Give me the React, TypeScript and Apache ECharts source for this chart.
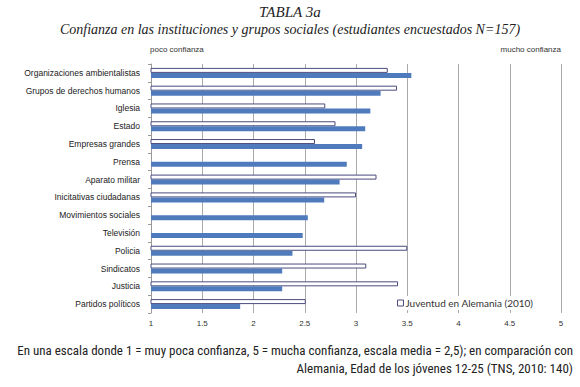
import React, { useEffect, useRef } from "react";
import * as echarts from "echarts";

const categories = [
  "Organizaciones ambientalistas",
  "Grupos de derechos humanos",
  "Iglesia",
  "Estado",
  "Empresas grandes",
  "Prensa",
  "Aparato militar",
  "Inicitativas ciudadanas",
  "Movimientos sociales",
  "Televisión",
  "Policia",
  "Sindicatos",
  "Justicia",
  "Partidos políticos",
];

const studentValues = [3.54, 3.24, 3.14, 3.09, 3.06, 2.91, 2.84, 2.69, 2.53, 2.48, 2.38, 2.28, 2.28, 1.87];
const germanyValues: (number | null)[] = [3.31, 3.4, 2.7, 2.8, 2.6, null, 3.2, 3.0, null, null, 3.5, 3.1, 3.41, 2.51];

const germanyName = "Juventud en Alemania (2010)";
const studentName = "Estudiantes encuestados";

const titleText = "TABLA 3a";
const subtitleText = "Confianza en las instituciones y grupos sociales (estudiantes encuestados N=157)";
const lowLabel = "poco confianza";
const highLabel = "mucho confianza";
const footer1 = "En una escala donde 1 = muy poca confianza, 5 = mucha confianza, escala media = 2,5); en comparación con";
const footer2 = "Alemania, Edad de los jóvenes 12-25 (TNS, 2010: 140)";

export default function App() {
  const ref = useRef<HTMLDivElement>(null);
  useEffect(() => {
    if (!ref.current) return;
    const chart = echarts.init(ref.current, null, { renderer: "svg" });
    const labelFont = "'Liberation Sans', Arial, sans-serif";
    chart.setOption({
      animation: false,
      backgroundColor: "#ffffff",
      grid: { left: 151, right: 19, top: 64, bottom: 74, containLabel: false },
      xAxis: {
        type: "value",
        min: 1,
        max: 5,
        interval: 0.5,
        position: "bottom",
        axisLine: { show: false },
        axisTick: { show: false },
        axisLabel: { fontSize: 8, color: "#333", fontFamily: labelFont, margin: 6 },
        splitLine: { show: true, lineStyle: { color: "#aaaaaa", width: 1 } },
      },
      yAxis: {
        type: "category",
        inverse: true,
        data: categories,
        axisLine: { show: true, lineStyle: { color: "#999999" } },
        axisTick: { show: true, length: 3, lineStyle: { color: "#999999" } },
        axisLabel: { fontSize: 8.5, color: "#222", fontFamily: labelFont, margin: 11 },
      },
      legend: {
        data: [
          {
            name: germanyName,
            itemStyle: { color: "#ffffff", borderColor: "#4b4b7d", borderWidth: 1 },
          },
        ],
        left: 395,
        top: 296,
        icon: "rect",
        itemWidth: 6,
        itemHeight: 6,
        itemGap: 2,
        padding: [2, 4, 2, 2],
        backgroundColor: "#ffffff",
        textStyle: { fontSize: 10, color: "#333", fontFamily: "Lato, 'Open Sans', sans-serif", padding: [0, 0, 0, -3] },
      },
      series: [
        {
          name: germanyName,
          type: "bar",
          data: germanyValues,
          barWidth: 5,
          barGap: "0%",
          itemStyle: { color: "#ffffff", borderColor: "#4b4b7d", borderWidth: 1 },
        },
        {
          name: studentName,
          type: "bar",
          data: studentValues,
          barWidth: 5,
          barGap: "0%",
          itemStyle: { color: "#4f7bbd" },
        },
      ],
      graphic: [
        {
          type: "text",
          left: "center",
          top: 4,
          style: { text: titleText, font: "italic 15px 'Liberation Serif', serif", fill: "#222" },
        },
        {
          type: "text",
          left: "center",
          top: 22,
          style: { text: subtitleText, font: "italic 14px 'Liberation Serif', serif", fill: "#222" },
        },
        {
          type: "text",
          x: 150,
          y: 45,
          style: { text: lowLabel, font: "8px 'Liberation Sans', Arial, sans-serif", fill: "#333" },
        },
        {
          type: "text",
          x: 561,
          y: 45,
          style: { text: highLabel, font: "8px 'Liberation Sans', Arial, sans-serif", fill: "#333", align: "right" },
        },
        {
          type: "text",
          x: 573,
          y: 344,
          style: { text: footer1, font: "13px 'Liberation Sans Narrow', 'Roboto Condensed', Roboto, sans-serif", fill: "#222", align: "right" },
        },
        {
          type: "text",
          x: 573,
          y: 362,
          style: { text: footer2, font: "13px 'Liberation Sans Narrow', 'Roboto Condensed', Roboto, sans-serif", fill: "#222", align: "right" },
        },
      ],
    });
    return () => chart.dispose();
  }, []);
  return <div ref={ref} style={{ position: "absolute", left: 0, top: 0, width: 580, height: 387 }} />;
}
